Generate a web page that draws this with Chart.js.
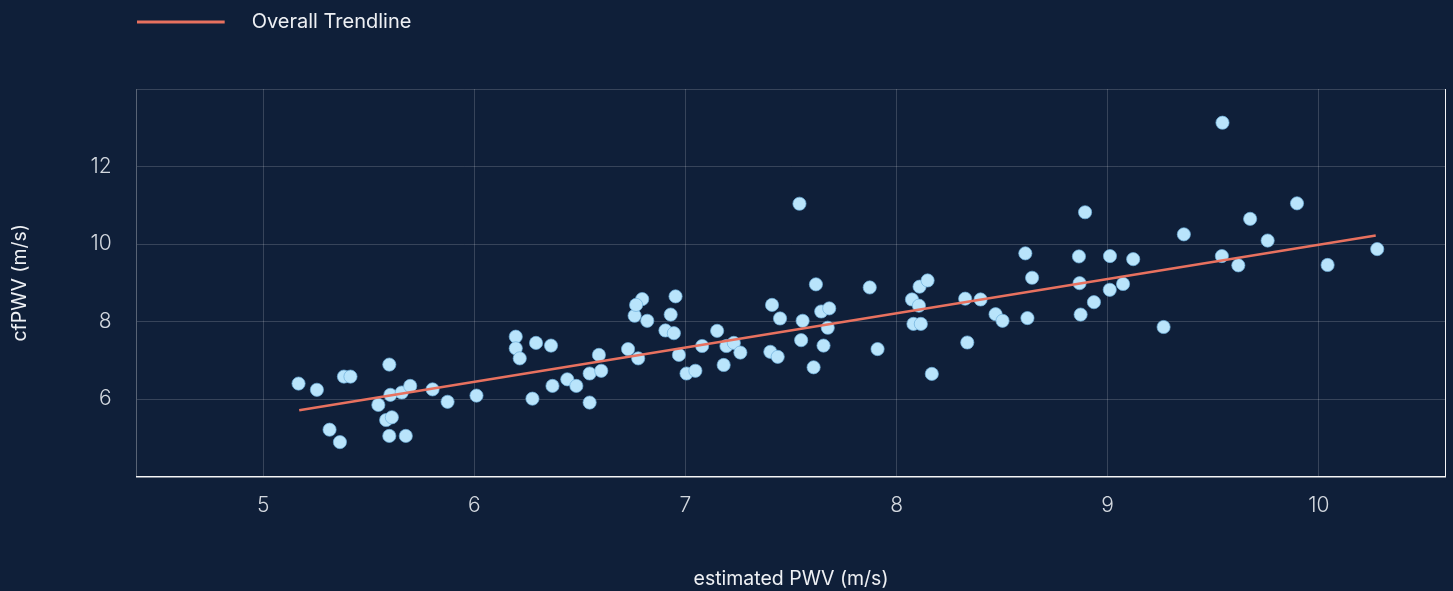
<!DOCTYPE html>
<html>
<head>
<meta charset="utf-8">
<script src="https://cdn.jsdelivr.net/npm/chart.js@4"></script>
<style>
  html, body { margin: 0; padding: 0; background: #0f1f39; }
  #wrap { width: 1453px; height: 591px; }
</style>
</head>
<body>
<div id="wrap"><canvas id="c" width="1453" height="591"></canvas></div>
<script>
// Data
const estimatedPWV = [
  5.167, 5.254, 5.382, 5.413, 5.597, 5.545, 5.602, 5.656, 5.696, 5.802,
  5.873, 6.010, 5.582, 5.609, 5.314, 5.363, 5.597, 5.675, 6.196, 6.196,
  6.215, 6.292, 6.363, 6.370, 6.275, 6.440, 6.483, 6.546, 6.590, 6.601,
  6.546, 6.728, 6.776, 6.759, 6.819, 6.905, 6.945, 6.930, 6.969, 6.795,
  6.766, 6.953, 7.005, 7.047, 7.079, 7.150, 7.194, 7.229, 7.260, 7.181,
  7.410, 7.448, 7.402, 7.437, 7.555, 7.548, 7.540, 7.618, 7.643, 7.681,
  7.674, 7.654, 7.607, 7.873, 7.910, 8.073, 8.106, 8.109, 8.147, 8.080,
  8.115, 8.167, 8.325, 8.398, 8.335, 8.469, 8.502, 8.610, 8.642, 8.620,
  8.864, 8.867, 8.872, 9.544, 8.893, 9.011, 9.121, 9.010, 9.073, 8.935,
  9.265, 9.361, 9.541, 9.619, 9.675, 9.758, 9.897, 10.042, 10.277
];
const cfPWV = [
  6.40, 6.24, 6.58, 6.58, 6.89, 5.85, 6.11, 6.17, 6.34, 6.25,
  5.93, 6.09, 5.46, 5.53, 5.21, 4.89, 5.05, 5.05, 7.61, 7.31,
  7.05, 7.45, 7.38, 6.34, 6.01, 6.51, 6.34, 6.66, 7.14, 6.73,
  5.91, 7.29, 7.05, 8.15, 8.02, 7.77, 7.70, 8.18, 7.14, 8.58,
  8.43, 8.65, 6.66, 6.73, 7.37, 7.76, 7.37, 7.45, 7.20, 6.88,
  8.43, 8.08, 7.22, 7.09, 8.02, 7.52, 11.04, 8.96, 8.26, 8.34,
  7.84, 7.38, 6.82, 8.88, 7.29, 8.57, 8.41, 8.90, 9.06, 7.94,
  7.94, 6.65, 8.59, 8.57, 7.46, 8.19, 8.02, 9.76, 9.13, 8.09,
  9.68, 8.99, 8.18, 13.13, 10.82, 9.69, 9.61, 8.82, 8.97, 8.50,
  7.86, 10.25, 9.69, 9.45, 10.65, 10.09, 11.05, 9.46, 9.87
];
const trendX = [5.17, 10.27];
const trendY = [5.71, 10.22];
const xTickValues = [5, 6, 7, 8, 9, 10];
const yTickValues = [6, 8, 10, 12];

const BG = '#0f1f39';
const GRID = 'rgba(255,255,255,0.17)';
const TREND = '#e8715f';
const FONT = "Inter, 'Open Sans', 'DejaVu Sans', sans-serif";

// legend marker: line with extra transparent space to its right
const marker = document.createElement('canvas');
marker.width = 105; marker.height = 4;
(function () {
  const m = marker.getContext('2d');
  m.fillStyle = TREND;
  m.fillRect(0, 0.5, 88, 3);
})();

const bgPlugin = {
  id: 'bg',
  beforeDraw(chart) {
    const c = chart.ctx;
    c.save();
    c.fillStyle = BG;
    c.fillRect(0, 0, chart.width, chart.height);
    c.restore();
  }
};
const legendSpace = {
  id: 'legendSpace',
  beforeInit(chart) {
    const orig = chart.legend.fit;
    chart.legend.fit = function () {
      orig.bind(chart.legend)();
      this.height = 77;
    };
  }
};

const points = estimatedPWV.map((x, i) => ({ x, y: cfPWV[i] }));
const trend = trendX.map((x, i) => ({ x, y: trendY[i] }));

new Chart(document.getElementById('c'), {
  type: 'scatter',
  data: {
    datasets: [
      {
        label: 'Data',
        data: points,
        backgroundColor: '#b9e4fb',
        borderColor: 'rgba(110,175,220,0.7)',
        borderWidth: 1,
        pointRadius: 6.6,
        pointHoverRadius: 6.6,
        order: 1
      },
      {
        type: 'line',
        label: 'Overall Trendline',
        data: trend,
        borderColor: TREND,
        backgroundColor: TREND,
        borderWidth: 2.5,
        pointRadius: 0,
        fill: false,
        order: 0
      }
    ]
  },
  plugins: [bgPlugin, legendSpace],
  options: {
    responsive: false,
    animation: false,
    layout: { padding: { top: 12, left: 8, right: 7, bottom: 0 } },
    plugins: {
      tooltip: { enabled: false },
      legend: {
        position: 'top',
        align: 'start',
        fullSize: false,
        labels: {
          filter: (item) => item.datasetIndex === 1,
          usePointStyle: true,
          pointStyle: marker,
          pointStyleWidth: 105,
          padding: 0,
          color: '#eef0f4',
          font: { family: FONT, size: 20, weight: '400' }
        }
      }
    },
    scales: {
      x: {
        type: 'linear',
        min: 4.4,
        max: 10.6,
        afterBuildTicks(scale) {
          scale.ticks = [4.4].concat(xTickValues, [10.6]).map(v => ({ value: v }));
        },
        ticks: {
          callback: (v) => (xTickValues.includes(v) ? String(v) : ''),
          color: '#d3d8df',
          padding: 0.4,
          maxRotation: 0,
          autoSkip: false,
          font: { family: FONT, size: 21, weight: '300' }
        },
        grid: {
          drawTicks: true,
          tickLength: 16,
          tickColor: 'rgba(0,0,0,0)',
          color: (ctx) => (ctx.tick && ctx.tick.value === 10.6 ? 'rgba(255,255,255,0.95)' : GRID),
          lineWidth: 1
        },
        border: { display: true, color: 'rgba(255,255,255,0.95)', width: 1.5 },
        title: {
          display: true,
          text: 'estimated PWV (m/s)',
          color: '#eef0f4',
          padding: { top: 49, bottom: 0 },
          font: { family: FONT, size: 19.5, weight: '400' }
        }
      },
      y: {
        type: 'linear',
        min: 4,
        max: 14,
        afterBuildTicks(scale) {
          scale.ticks = [4].concat(yTickValues, [14]).map(v => ({ value: v }));
        },
        ticks: {
          callback: (v) => (yTickValues.includes(v) ? String(v) : ''),
          color: '#d3d8df',
          padding: 25,
          autoSkip: false,
          font: { family: FONT, size: 21, weight: '300' }
        },
        grid: { drawTicks: false, color: GRID, lineWidth: 1 },
        border: { display: true, color: GRID, width: 1 },
        title: {
          display: true,
          text: 'cfPWV (m/s)',
          color: '#eef0f4',
          padding: { top: 0, bottom: 34 },
          font: { family: FONT, size: 19.5, weight: '400' }
        }
      }
    }
  }
});
</script>
</body>
</html>
